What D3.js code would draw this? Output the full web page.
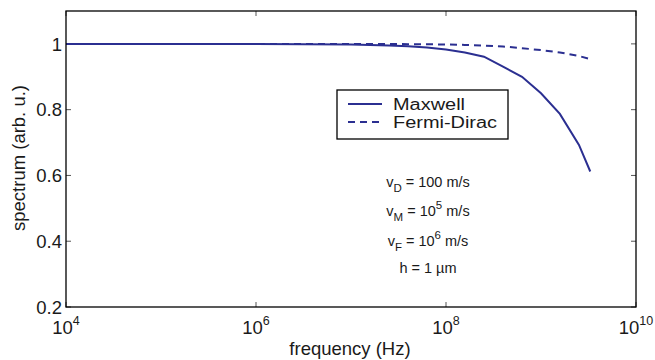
<!DOCTYPE html>
<html><head><meta charset="utf-8">
<script src="https://cdn.jsdelivr.net/npm/d3@7"></script>
<style>body{margin:0;background:#fff}svg{display:block;font-family:"Liberation Sans",Arial,sans-serif}</style>
</head><body><svg id="c" width="655" height="360"></svg>
<script>
const freq = [1e4, 1e5, 1e6, 1e7, 1.58e7, 2.51e7, 3.98e7, 6.31e7, 1e8, 1.58e8, 2.51e8, 3.98e8, 6.31e8, 1e9, 1.58e9, 2.51e9, 3.3e9];
const maxwell = [1, 1, 1, 0.998, 0.997, 0.995, 0.993, 0.989, 0.983, 0.974, 0.961, 0.931, 0.900, 0.850, 0.787, 0.693, 0.612];
const fermiDirac = [1, 1, 1, 1, 1, 1, 0.999, 0.999, 0.998, 0.997, 0.995, 0.992, 0.987, 0.981, 0.974, 0.963, 0.954];
const xTicks = [1e4, 1e6, 1e8, 1e10];
const yTicks = [0.2, 0.4, 0.6, 0.8, 1];
const seriesNames = ["Maxwell", "Fermi-Dirac"];
const notes = [["v", "D", " = 100 m/s", null], ["v", "M", " = 10", "5", " m/s"], ["v", "F", " = 10", "6", " m/s"]];

const svg = d3.select("#c");
const L = 66, R = 636, T = 11, B = 307;
const color = "#2b2f91";
const ink = "#1a1a1a";
const x = d3.scaleLog().domain([1e4, 1e10]).range([L, R]);
const y = d3.scaleLinear().domain([0.2, 1.1]).range([B, T]);

svg.append("rect").attr("x", L).attr("y", T).attr("width", R - L).attr("height", B - T)
  .attr("fill", "#fff").attr("stroke", "none");

const tl = 5;
xTicks.forEach(v => {
  const px = x(v);
  svg.append("line").attr("x1", px).attr("x2", px).attr("y1", B).attr("y2", B - tl).attr("stroke", "#555");
  svg.append("line").attr("x1", px).attr("x2", px).attr("y1", T).attr("y2", T + tl).attr("stroke", "#555");
  const exp = Math.round(Math.log10(v));
  const t = svg.append("text").attr("x", px).attr("y", 334).attr("text-anchor", "middle")
    .attr("font-size", 18.5).attr("fill", ink);
  t.append("tspan").text("10");
  t.append("tspan").attr("dy", -9).attr("font-size", 12.5).text(exp);
});
yTicks.forEach(v => {
  const py = y(v);
  svg.append("line").attr("x1", L).attr("x2", L + tl).attr("y1", py).attr("y2", py).attr("stroke", "#555");
  svg.append("line").attr("x1", R).attr("x2", R - tl).attr("y1", py).attr("y2", py).attr("stroke", "#555");
  svg.append("text").attr("x", 62).attr("y", py + 6.7).attr("text-anchor", "end")
    .attr("font-size", 18.5).attr("fill", ink).text(d3.format("~g")(v));
});

const line = d3.line().x(d => x(d[0])).y(d => y(d[1]));
svg.append("path").datum(freq.map((f, i) => [f, fermiDirac[i]])).attr("d", line)
  .attr("fill", "none").attr("stroke", color).attr("stroke-width", 2).attr("stroke-dasharray", "7,5");
svg.append("path").datum(freq.map((f, i) => [f, maxwell[i]])).attr("d", line)
  .attr("fill", "none").attr("stroke", color).attr("stroke-width", 2);
svg.append("rect").attr("x", L).attr("y", T).attr("width", R - L).attr("height", B - T)
  .attr("fill", "none").attr("stroke", "#000").attr("stroke-width", 1.3);

// legend
svg.append("rect").attr("x", 337).attr("y", 90).attr("width", 171).attr("height", 49)
  .attr("fill", "#fff").attr("stroke", "#000").attr("stroke-width", 1.3);
const legendLen = [72, 104];
seriesNames.forEach((n, i) => {
  const ly = 104 + i * 18;
  svg.append("line").attr("x1", 348).attr("x2", 382).attr("y1", ly).attr("y2", ly)
    .attr("stroke", color).attr("stroke-width", 2).attr("stroke-dasharray", i ? "7,5" : null);
  svg.append("text").attr("x", 393).attr("y", ly + 5.8).attr("font-size", 16)
    .attr("textLength", legendLen[i]).attr("lengthAdjust", "spacingAndGlyphs")
    .attr("fill", ink).text(n);
});

// annotations
const ny = [187, 216, 246];
notes.forEach((nt, i) => {
  const t = svg.append("text").attr("x", 428).attr("y", ny[i]).attr("text-anchor", "middle")
    .attr("font-size", 14.5).attr("fill", ink);
  t.append("tspan").text(nt[0]);
  t.append("tspan").attr("dy", 5).attr("font-size", 11.5).text(nt[1]);
  t.append("tspan").attr("dy", -5).text(nt[2]);
  if (nt[3]) {
    t.append("tspan").attr("dy", -7).attr("font-size", 11.5).text(nt[3]);
    t.append("tspan").attr("dy", 7).text(nt[4]);
  }
});
svg.append("text").attr("x", 428).attr("y", 273).attr("text-anchor", "middle")
  .attr("font-size", 14.5).attr("fill", ink).text("h = 1 \u00b5m");

svg.append("text").attr("x", 350).attr("y", 355).attr("text-anchor", "middle")
  .attr("font-size", 18.5).attr("fill", ink).text("frequency (Hz)");
svg.append("text").attr("transform", "translate(25,158) rotate(-90)").attr("text-anchor", "middle")
  .attr("font-size", 18.5).attr("fill", ink).text("spectrum (arb. u.)");
</script></body></html>
